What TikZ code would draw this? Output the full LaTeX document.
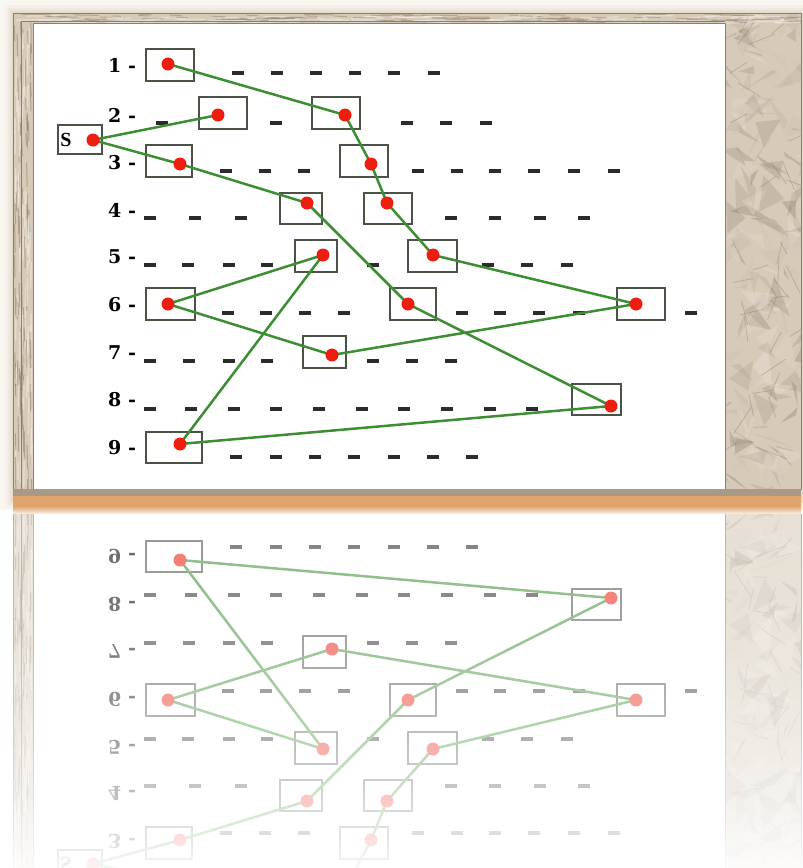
\documentclass[tikz,border=0pt]{standalone}
\usepackage{fontspec}
\newfontfamily\labfont{DejaVu Serif}
\newfontfamily\sfont{Liberation Serif}
\usetikzlibrary{calc}
\definecolor{bgcream}{HTML}{FAF6F0}
\definecolor{shadowcol}{HTML}{D9CBB8}
\definecolor{parchbase}{HTML}{D6CAB8}
\definecolor{parchlight}{HTML}{F0E9DE}
\definecolor{parchdark}{HTML}{8A7B68}
\definecolor{bandgray}{HTML}{A99A88}
\definecolor{bandorange}{HTML}{E0A36C}
\definecolor{boxcol}{HTML}{4B5346}
\definecolor{linecol}{HTML}{3D8E33}
\definecolor{dotcol}{HTML}{EC1E10}
\definecolor{dashcol}{HTML}{2B2B2B}
\definecolor{edgecol}{HTML}{8C7E6C}

\tikzset{
  slotbox/.style={draw=boxcol, line width=1.9pt, inner sep=0pt},
  link/.style={draw=linecol, line width=2.5pt, line join=round, line cap=round},
  reddot/.style={circle, fill=dotcol, inner sep=0pt, minimum size=13pt},
  rowlab/.style={font=\labfont\bfseries\fontsize{19}{19}\selectfont, inner sep=0pt, anchor=west},
  slab/.style={font=\sfont\bfseries\fontsize{20}{20}\selectfont, inner sep=0pt},
  slotdash/.style={draw=dashcol, line width=3.2pt},
}

% box node + anchor coordinate for the dot
\newcommand\slot[7]{%
  \node[slotbox, minimum width={#4-#2}, minimum height={#5-#3}] (box#1) at ({(#2+#4)/2},{(#3+#5)/2}) {};
  \coordinate (#1) at (#6,#7);
}
\newcommand\dashrow[2]{\foreach \x in {#2} \draw[slotdash] (\x-6,#1) -- (\x+6,#1);}

\newcommand\framepic{%
  \fill[parchbase] (13,13) rectangle (801,490);
  \begin{scope}
    \clip (13,13) rectangle (801,490);
    \pgfmathsetseed{11}
    % right panel: crumpled paper facets
    \foreach \k in {1,...,200}{
      \pgfmathsetmacro\px{720+rnd*86}
      \pgfmathsetmacro\py{15+rnd*480}
      \pgfmathtruncatemacro\mix{rnd*100}
      \fill[parchdark!\mix!parchlight, opacity=0.33] (\px,\py) -- ++({-26+rnd*52},{-26+rnd*52}) -- ++({-26+rnd*52},{-26+rnd*52}) -- cycle;
    }
    \foreach \k in {1,...,40}{
      \pgfmathsetmacro\px{725+rnd*76}
      \pgfmathsetmacro\py{23+rnd*467}
      \pgfmathsetmacro\ang{rnd*360}
      \pgfmathsetmacro\len{10+rnd*24}
      \draw[parchdark, line width=0.7pt, opacity=0.4] (\px,\py) -- ++(\ang:\len);
    }
    % top strip streaks
    \foreach \k in {1,...,90}{
      \pgfmathsetmacro\px{13+rnd*788}
      \pgfmathsetmacro\py{14+rnd*8}
      \pgfmathsetmacro\len{8+rnd*30}
      \draw[parchdark, line width=1pt, opacity=0.45] (\px,\py) -- ++(\len,0.5);
      \pgfmathsetmacro\qx{13+rnd*788}
      \draw[parchlight, line width=1.5pt, opacity=0.6] (\qx,\py+2) -- ++(\len,-0.5);
    }
    % left strip streaks
    \foreach \k in {1,...,70}{
      \pgfmathsetmacro\px{14+rnd*18}
      \pgfmathsetmacro\py{13+rnd*477}
      \pgfmathsetmacro\len{10+rnd*30}
      \draw[parchdark, line width=1pt, opacity=0.5] (\px,\py) -- ++(0.5,\len);
      \pgfmathsetmacro\qy{13+rnd*477}
      \draw[parchlight, line width=1.5pt, opacity=0.6] (\px+1,\qy) -- ++(-0.5,\len);
    }
  \end{scope}
  \fill[white] (33,23) rectangle (725,490);
  \draw[edgecol, line width=0.8pt] (13,490) -- (13,13) -- (801,13) -- (801,490);
  \draw[edgecol, line width=0.6pt] (21,490) -- (21,21) -- (725,21);
  \draw[edgecol, line width=1pt] (33,490) -- (33,23) -- (725,23) -- (725,490);
}

\newcommand\diagram{%
  % slots (box + dot position)
  \slot{nS}{58}{125}{102}{154}{93}{140}
  \slot{n1}{146}{49}{194}{81}{168}{64}
  \slot{n2a}{199}{97}{247}{129}{218}{115}
  \slot{n2b}{312}{97}{360}{129}{345}{115}
  \slot{n3a}{146}{145}{192}{177}{180}{164}
  \slot{n3b}{340}{145}{388}{177}{371}{164}
  \slot{n4a}{280}{193}{322}{224}{307}{203}
  \slot{n4b}{364}{193}{412}{224}{387}{203}
  \slot{n5a}{295}{240}{337}{272}{323}{255}
  \slot{n5b}{408}{240}{457}{272}{433}{255}
  \slot{n6a}{146}{288}{195}{320}{168}{304}
  \slot{n6b}{390}{288}{436}{320}{408}{304}
  \slot{n6c}{617}{288}{665}{320}{636}{304}
  \slot{n7}{303}{336}{346}{368}{332}{355}
  \slot{n8}{572}{384}{621}{415}{611}{406}
  \slot{n9}{146}{432}{202}{463}{180}{444}
  % row labels
  \node[slab] (labS) at (66,140) {S};
  \node[rowlab] (lab1) at (108,65) {1 -};
  \node[rowlab] (lab2) at (108,115) {2 -};
  \node[rowlab] (lab3) at (108,163) {3 -};
  \node[rowlab] (lab4) at (108,210) {4 -};
  \node[rowlab] (lab5) at (108,257) {5 -};
  \node[rowlab] (lab6) at (108,305) {6 -};
  \node[rowlab] (lab7) at (108,353) {7 -};
  \node[rowlab] (lab8) at (108,400) {8 -};
  \node[rowlab] (lab9) at (108,448) {9 -};
  % slot dashes
  \dashrow{73}{238,277,316,355,394,434}
  \dashrow{123}{162,276,407,446,486}
  \dashrow{171}{226,265,304,418,457,495,534,574,614}
  \dashrow{218}{150,195,241,451,495,540,584}
  \dashrow{265}{150,188,229,267,373,488,527,567}
  \dashrow{313}{228,266,305,344,462,500,539,579,691}
  \dashrow{361}{150,189,229,267,373,412,451}
  \dashrow{409}{150,191,234,276,319,362,404,447,490,532}
  \dashrow{457}{236,276,315,354,394,433,472}
  % path
  \draw[link] (n1) -- (n2b) -- (n3b) -- (n4b) -- (n5b) -- (n6c) -- (n7) -- (n6a) -- (n5a) -- (n9) -- (n8) -- (n6b) -- (n4a) -- (n3a) -- (nS) -- (n2a);
  % dots
  \foreach \n in {nS,n1,n2a,n2b,n3a,n3b,n4a,n4b,n5a,n5b,n6a,n6b,n6c,n7,n8,n9}
    \node[reddot] (dot\n) at (\n) {};
}

\begin{document}
\begin{tikzpicture}[x=1pt,y=-1pt]
  \useasboundingbox (0,0) rectangle (803,868);
  \fill[bgcream] (0,0) rectangle (803,868);
  % soft shadow
  \foreach \s/\o in {8/0.12,5/0.18,3/0.25,1.5/0.3}
    \fill[shadowcol, opacity=\o] (13-\s,13-\s) rectangle (801+\s,500+\s);
  % main picture
  \framepic
  \diagram
  % reflection
  \begin{scope}
    \clip (0,510) rectangle (803,868);
    \fill[white] (0,510) rectangle (803,868);
    \begin{scope}[shift={(0,1004)}, yscale=-1, transform shape, name prefix=r-]
      \framepic
      \diagram
    \end{scope}
  \end{scope}
  % fade of the reflection
  \foreach \i in {0,...,71}{
    \pgfmathsetmacro\op{0.42+0.53*((\i+0.5)/72)^2}
    \fill[white, opacity=\op] (0,{510+5*\i}) rectangle (803,{515+5*\i});
  }
  % bottom band of the frame
  \fill[bandgray] (13,489) rectangle (801,496);
  \fill[bandorange] (13,496) rectangle (801,506);
  \shade[top color=bandorange, bottom color=bandorange!25!white] (13,506) rectangle (801,513);
\end{tikzpicture}
\end{document}
